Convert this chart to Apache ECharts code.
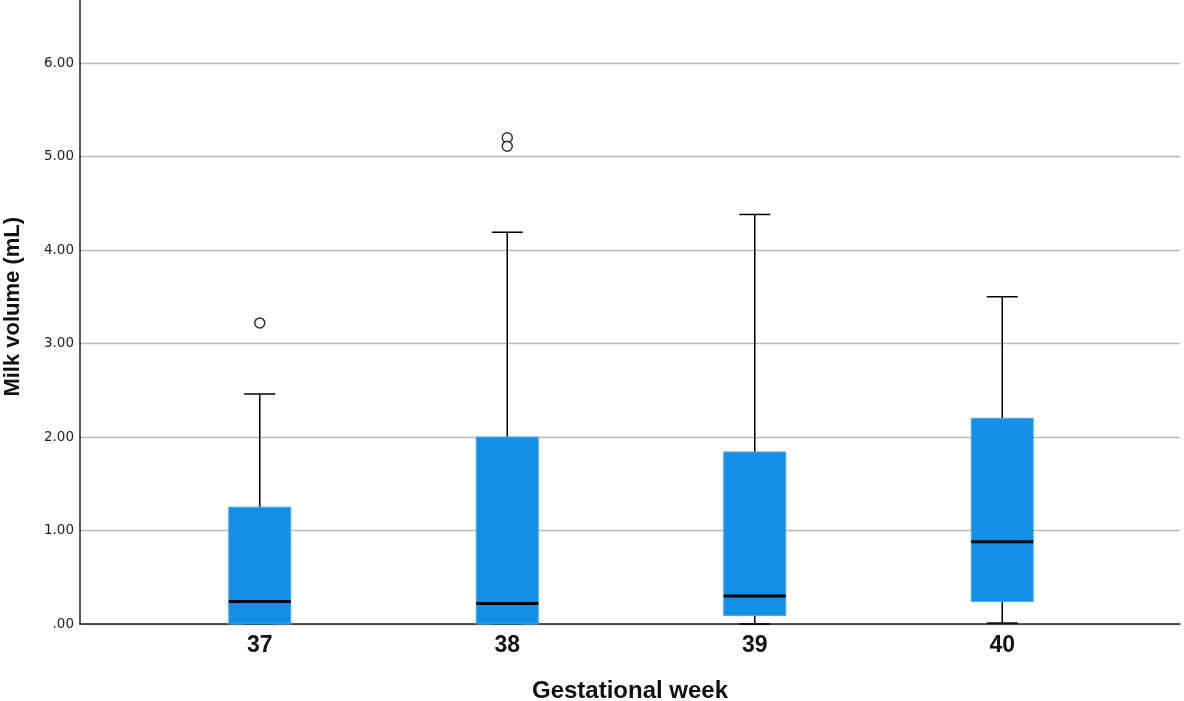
<!DOCTYPE html>
<html>
<head>
<meta charset="utf-8">
<script src="https://cdn.jsdelivr.net/npm/echarts@6/dist/echarts.min.js"></script>
<style>html,body{margin:0;padding:0;background:#fff}#c{width:1184px;height:701px}</style>
</head>
<body>
<div id="c"></div>
<script>
const weeks = ['37', '38', '39', '40'];
const whiskerLow = [0, 0, 0, 0.01];
const q1 = [0, 0, 0.09, 0.24];
const median = [0.24, 0.22, 0.30, 0.88];
const q3 = [1.25, 2.00, 1.84, 2.20];
const whiskerHigh = [2.46, 4.19, 4.38, 3.50];
const outliers = [['37', 3.22], ['38', 5.20], ['38', 5.11]];
const yTicks = [0, 1, 2, 3, 4, 5, 6];

const FONT = '"Liberation Sans", Arial, Helvetica, sans-serif';
const TICKFONT = '"DejaVu Sans", Verdana, sans-serif';
const boxData = weeks.map((w, i) => [i, whiskerLow[i], q1[i], median[i], q3[i], whiskerHigh[i]]);

const chart = echarts.init(document.getElementById('c'), null, {renderer: 'canvas'});
chart.setOption({
  animation: false,
  backgroundColor: '#ffffff',
  grid: [
    {left: 80, right: 4, top: -30.5, bottom: 77, containLabel: false, outerBoundsMode: 'none'},
    {left: 136, right: 58, top: -30.5, bottom: 77, containLabel: false, outerBoundsMode: 'none'}
  ],
  xAxis: [
    {
      gridIndex: 0, type: 'value', min: 0, max: 1,
      axisLine: {show: true, onZero: false, lineStyle: {color: '#222', width: 1.5}},
      axisTick: {show: false}, axisLabel: {show: false}, splitLine: {show: false},
      name: 'Gestational week', nameLocation: 'middle', nameGap: 55,
      nameTextStyle: {fontFamily: FONT, fontSize: 24, fontWeight: 'bold', color: '#111'}
    },
    {
      gridIndex: 1, type: 'category', data: weeks, boundaryGap: true,
      axisLine: {show: false}, axisTick: {show: false}, splitLine: {show: false},
      axisLabel: {fontFamily: FONT, fontSize: 23, fontWeight: 'bold', color: '#111', margin: 10}
    }
  ],
  yAxis: [
    {
      gridIndex: 0, type: 'value', min: 0, max: 7, interval: 1,
      axisLine: {show: true, onZero: false, lineStyle: {color: '#222', width: 1.5}},
      axisTick: {show: false},
      axisLabel: {
        fontFamily: TICKFONT, fontSize: 13.5, color: '#222', margin: 6, showMaxLabel: false,
        formatter: v => yTicks.includes(v) ? v.toFixed(2).replace(/^0\./, '.') : ''
      },
      splitLine: {show: true, lineStyle: {color: '#b9b9b9', width: 1.3}},
      name: 'Milk volume (mL)', nameLocation: 'middle', nameGap: 56, nameRotate: 90,
      nameTextStyle: {fontFamily: FONT, fontSize: 22, fontWeight: 'bold', color: '#111', padding: [0, 20, 0, 0]}
    },
    {
      gridIndex: 1, type: 'value', min: 0, max: 7, interval: 1, show: false,
      splitLine: {show: false}
    }
  ],
  series: [
    {
      type: 'custom', xAxisIndex: 1, yAxisIndex: 1,
      data: boxData,
      encode: {x: 0, y: [1, 2, 3, 4, 5]},
      renderItem: function (params, api) {
        const idx = api.value(0);
        const pLow = api.coord([idx, api.value(1)]);
        const pQ1 = api.coord([idx, api.value(2)]);
        const pMed = api.coord([idx, api.value(3)]);
        const pQ3 = api.coord([idx, api.value(4)]);
        const pHigh = api.coord([idx, api.value(5)]);
        const cx = pQ1[0];
        const bw = 62, cw = 31;
        const black = {stroke: '#000', lineWidth: 1.5};
        return {
          type: 'group',
          children: [
            {type: 'line', shape: {x1: cx, y1: pQ3[1], x2: cx, y2: pHigh[1]}, style: black},
            {type: 'line', shape: {x1: cx - cw / 2, y1: pHigh[1], x2: cx + cw / 2, y2: pHigh[1]}, style: black},
            {type: 'line', shape: {x1: cx, y1: pQ1[1], x2: cx, y2: pLow[1]}, style: black},
            {type: 'line', shape: {x1: cx - cw / 2, y1: pLow[1], x2: cx + cw / 2, y2: pLow[1]}, style: black},
            {type: 'rect', shape: {x: cx - bw / 2, y: pQ3[1], width: bw, height: pQ1[1] - pQ3[1]},
              style: {fill: '#1390e5', stroke: '#4aa9ec', lineWidth: 1}},
            {type: 'line', shape: {x1: cx - bw / 2, y1: pMed[1], x2: cx + bw / 2, y2: pMed[1]},
              style: {stroke: '#000', lineWidth: 3}}
          ]
        };
      }
    },
    {
      type: 'scatter', xAxisIndex: 1, yAxisIndex: 1,
      data: outliers,
      symbol: 'circle', symbolSize: 10,
      itemStyle: {color: '#ffffff', borderColor: '#000', borderWidth: 1.5},
      z: 5
    }
  ]
});
</script>
</body>
</html>
